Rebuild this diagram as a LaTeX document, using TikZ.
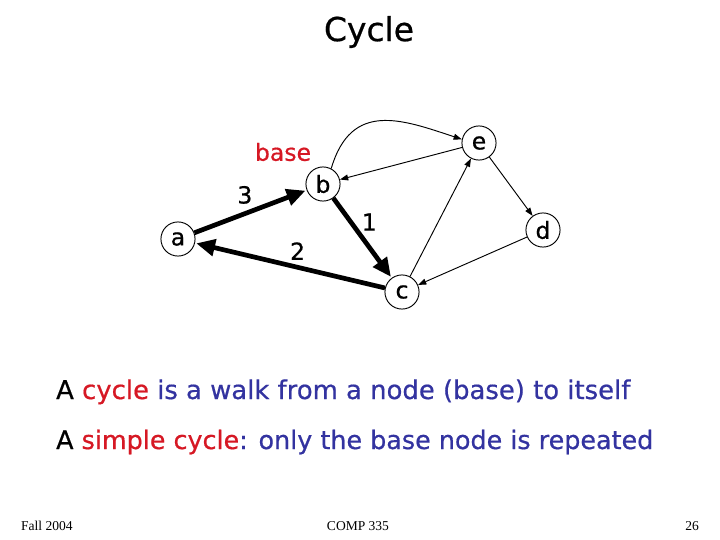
\documentclass[tikz,border=0pt]{standalone}
\usepackage{fontspec}
\setmainfont[FakeBold=0.6]{DejaVu Sans}
\newfontfamily\footfont{Liberation Serif}
\usetikzlibrary{arrows.meta}

\definecolor{cyclered}{RGB}{214,24,36}
\definecolor{cycleblue}{RGB}{51,51,160}

\tikzset{
    vertex/.style={draw, circle, line width=0.8pt, minimum size=29pt, inner sep=0pt, font=\fontsize{20}{20}\selectfont},
    walkedge/.style={line width=4pt, -{Triangle[length=16pt, width=14pt]}, shorten >=1pt},
    plainedge/.style={line width=0.8pt, -{Triangle[length=7pt, width=5pt]}},
    weight/.style={font=\fontsize{20}{20}\selectfont}
}

\begin{document}
\begin{tikzpicture}[x=0.85pt, y=-0.85pt]
    % Fix the slide size
    \useasboundingbox (0,0) rectangle (720,540);

    % Title
    \node[font=\fontsize{28}{28}\selectfont] (title) at (369,32) {Cycle};

    % Draw the vertices
    \node[vertex] (a) at (178,239) {a};
    \node[vertex] (b) at (323,184) {b};
    \node[vertex] (e) at (479,143) {e};
    \node[vertex] (d) at (543,230) {d};
    \node[vertex] (c) at (402,292) {c};

    % Label the base vertex
    \node[font=\fontsize{20}{20}\selectfont, text=cyclered] (base) at (283,152) {base};

    % Draw the simple cycle a -> b -> c -> a
    \draw[walkedge] (a) -- (b) node[weight, pos=0.45, above=3pt] (w3) {3};
    \draw[walkedge] (b) -- (c) node[weight, pos=0.3, right=4pt] (w1) {1};
    \draw[walkedge] (c) -- (a) node[weight, pos=0.46, above=1pt] (w2) {2};

    % Draw the other edges
    \draw[plainedge] (b.62) .. controls +(20,-68) and +(-60,-20) .. (e.168);
    \draw[plainedge] (e) -- (b);
    \draw[plainedge] (e) -- (d);
    \draw[plainedge] (d) -- (c);
    \draw[plainedge] (c) -- (e);

    % Text lines
    \node[anchor=base west, font=\fontsize{22}{22}\selectfont] (line1) at (52,399)
        {A \textcolor{cyclered}{cycle} \textcolor{cycleblue}{is a walk from a node (base) to itself}};
    \node[anchor=base west, font=\fontsize{21.6}{21.6}\selectfont] (line2) at (52,449)
        {A \textcolor{cyclered}{simple cycle}\textcolor{cycleblue}{: only the base node is repeated}};

    % Footer
    \node[anchor=base west, font=\footfont\fontsize{11.5}{11.5}\selectfont] (term) at (17,530) {Fall 2004};
    \node[anchor=base, font=\footfont\fontsize{11.5}{11.5}\selectfont] (course) at (358,530) {COMP 335};
    \node[anchor=base east, font=\footfont\fontsize{11.5}{11.5}\selectfont] (page) at (703,530) {26};
\end{tikzpicture}
\end{document}
